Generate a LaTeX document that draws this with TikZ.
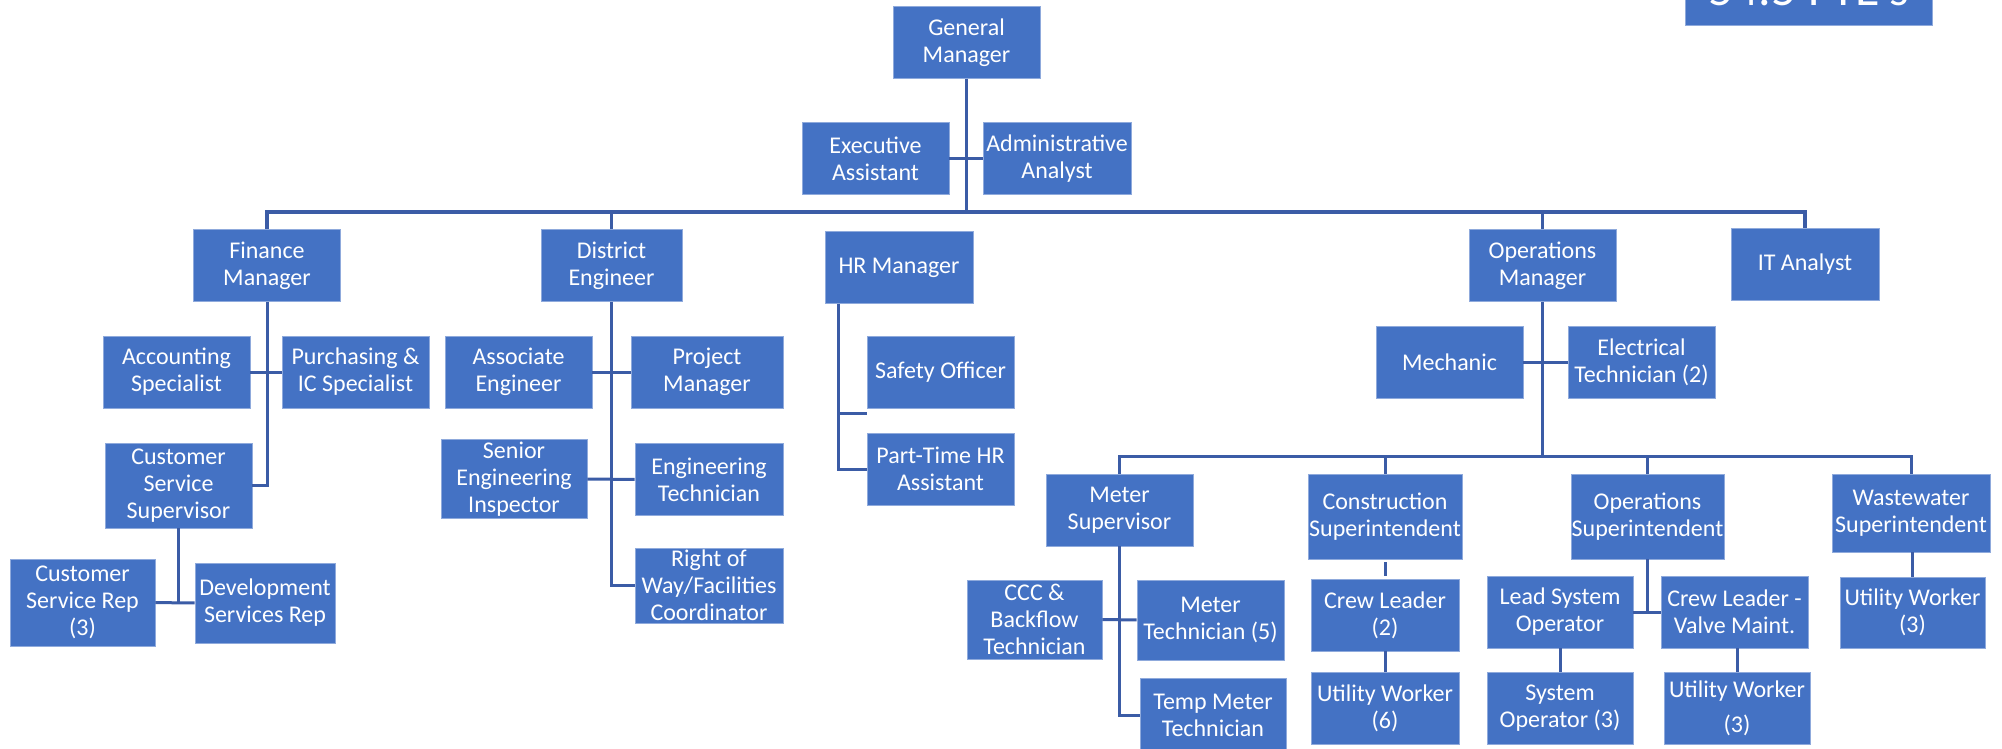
\documentclass[tikz,border=0pt]{standalone}
\usepackage{fontspec}
\setmainfont{Carlito}
\usepackage{tikz}
\usetikzlibrary{positioning}
\definecolor{orgblue}{HTML}{4472C4}
\definecolor{edgeblue}{HTML}{8FAADC}
\definecolor{lineblue}{HTML}{3B5CA6}
\tikzstyle{bx}=[%
      rectangle, draw=edgeblue, line width=0.4pt, fill=orgblue, text=white,
      font=\fontsize{12}{13.5}\selectfont, align=center,
      minimum width=73.5pt, minimum height=36pt, inner xsep=0pt, inner ysep=1pt
]
\tikzstyle{ln}=[%
      draw=lineblue, line width=1.5pt
]
\tikzstyle{bs}=[%
      draw=lineblue, line width=2pt
]
\begin{document}
\begin{tikzpicture}[x=0.5pt, y=-0.5pt]
    \useasboundingbox (0,0) rectangle (2002,749);

    % top level
    \node[bx] (gm) at (966.5,42.5) {General\\Manager};
    \node[bx] (exa) at (875.5,158.5) {Executive\\Assistant};
    \node[bx, minimum width=74pt] (ada) at (1057,158.5) {Administrative\\Analyst};
    \node[bx, anchor=base, font=\fontsize{25}{30}\selectfont, inner sep=0pt,
          text height=30pt, text depth=9.5pt, minimum width=123.5pt, minimum height=0pt]
          (fte) at (1808.5,6) {54.5 FTE's};

    % managers
    \node[bx] (fin) at (267,265.5) {Finance\\Manager};
    \node[bx, minimum width=70.5pt] (dis) at (611.5,265.5) {District\\Engineer};
    \node[bx, minimum width=74pt] (hrm) at (899,267.5) {HR Manager};
    \node[bx] (opm) at (1542.5,265.5) {Operations\\Manager};
    \node[bx, minimum width=74pt] (ita) at (1805,264.5) {IT Analyst};

    % finance
    \node[bx] (acc) at (176.5,372) {Accounting\\Specialist};
    \node[bx] (pur) at (355.5,372) {Purchasing \&\\IC Specialist};
    \node[bx, minimum height=42.5pt] (css) at (178.5,485.5) {Customer\\Service\\Supervisor};
    \node[bx, minimum width=72.5pt, minimum height=43.5pt] (csr) at (82.5,602.5) {Customer\\Service Rep\\(3)};
    \node[bx, minimum width=70pt, minimum height=40pt] (dsr) at (265,603) {Development\\Services Rep};

    % district engineer
    \node[bx] (ase) at (518.5,372) {Associate\\Engineer};
    \node[bx, minimum width=76pt] (prm) at (707,372) {Project\\Manager};
    \node[bx, minimum width=73pt] (sei) at (514,479) {Senior\\Engineering\\Inspector};
    \node[bx, minimum width=74pt] (ent) at (709,479.5) {Engineering\\Technician};
    \node[bx, minimum width=74pt] (row) at (709,585.5) {Right of\\Way/Facilities\\Coordinator};

    % hr
    \node[bx] (saf) at (940.5,372) {Safety Officer};
    \node[bx] (pth) at (940.5,469) {Part-Time HR\\Assistant};

    % operations
    \node[bx] (mec) at (1449.5,362.5) {Mechanic};
    \node[bx] (ele) at (1641.5,362.5) {Electrical\\Technician (2)};
    \node[bx] (mts) at (1119.5,510) {Meter\\Supervisor};
    \node[bx, minimum width=77pt, minimum height=42.5pt] (cos) at (1385,516.5) {Construction\\Superintendent};
    \node[bx, minimum width=76.5pt, minimum height=42.5pt] (ops) at (1647.5,516.5) {Operations\\Superintendent};
    \node[bx, minimum width=79pt, minimum height=39pt] (wws) at (1911,513) {Wastewater\\Superintendent};

    \node[bx, minimum width=67.5pt, minimum height=39.5pt] (ccc) at (1034.5,619.5) {CCC \&\\Backflow\\Technician};
    \node[bx, minimum height=40pt] (mtt) at (1210.5,620) {Meter\\Technician (5)};
    \node[bx, minimum width=73pt, minimum height=37pt] (tmt) at (1213,715) {Temp Meter\\Technician};
    \node[bx, minimum width=74pt] (cl2) at (1385,615) {Crew Leader\\(2)};
    \node[bx, minimum width=74pt] (uw6) at (1385,708) {Utility Worker\\(6)};
    \node[bx, minimum width=73pt] (lso) at (1560,612) {Lead System\\Operator};
    \node[bx] (clv) at (1734.5,612) {Crew Leader -\\Valve Maint.};
    \node[bx, minimum width=73pt] (syo) at (1560,708) {System\\Operator (3)};
    \node[bx, minimum width=73pt] (uw3a) at (1737,708) {Utility Worker\\[4pt](3)};
    \node[bx, minimum width=72.5pt, minimum height=35.5pt] (uw3b) at (1912.5,612.5) {Utility Worker\\(3)};

    \coordinate (bus) at (966.5,212);
    \coordinate (obus) at (1542.5,456);

    % connectors
    \draw[ln] (gm.south) -- (gm.south |- bus);
    \draw[ln] (exa) -- (ada);
    \draw[bs] (fin.north) -- (fin.north |- bus) -- (ita.north |- bus) -- (ita.north);
    \draw[ln] (dis.north) -- (dis.north |- bus) (opm.north) -- (opm.north |- bus);

    \draw[ln] (fin.south) -- (fin.south |- css.east) -- (css.east);
    \draw[ln] (acc) -- (pur);
    \draw[ln] (css.south) -- (css.south |- csr.east);
    \draw[ln] (csr) -- (dsr);

    \draw[ln] (dis.south) -- (dis.south |- row.west) -- (row.west);
    \draw[ln] (ase) -- (prm);
    \draw[ln] (sei) -- (ent);

    \draw[ln] ([xshift=-30.5pt]hrm.south) |- (pth.west);
    \draw[ln] ([xshift=-30.5pt]hrm.south) |- ([yshift=-2.5pt]saf.south west);

    \draw[ln] (opm.south) -- (obus);
    \draw[ln] (mec) -- (ele);
    \draw[ln] (mts.north) -- (mts.north |- obus) -- (wws.north |- obus) -- (wws.north);
    \draw[ln] (cos.north) -- (cos.north |- obus) (ops.north) -- (ops.north |- obus);

    \draw[ln] (mts.south) |- (tmt.west);
    \draw[ln] (ccc) -- (mtt);
    \draw[ln] ([yshift=-1.5pt]cos.south) -- ([yshift=1.5pt]cl2.north);
    \draw[ln] (cl2) -- (uw6);
    \draw[ln] (ops.south) -- (ops.south |- lso.east);
    \draw[ln] (lso) -- (clv);
    \draw[ln] (lso) -- (syo);
    \draw[ln] (uw3a.north |- clv.south) -- (uw3a.north);
    \draw[ln] (uw3b.north |- wws.south) -- (uw3b.north);
\end{tikzpicture}
\end{document}
